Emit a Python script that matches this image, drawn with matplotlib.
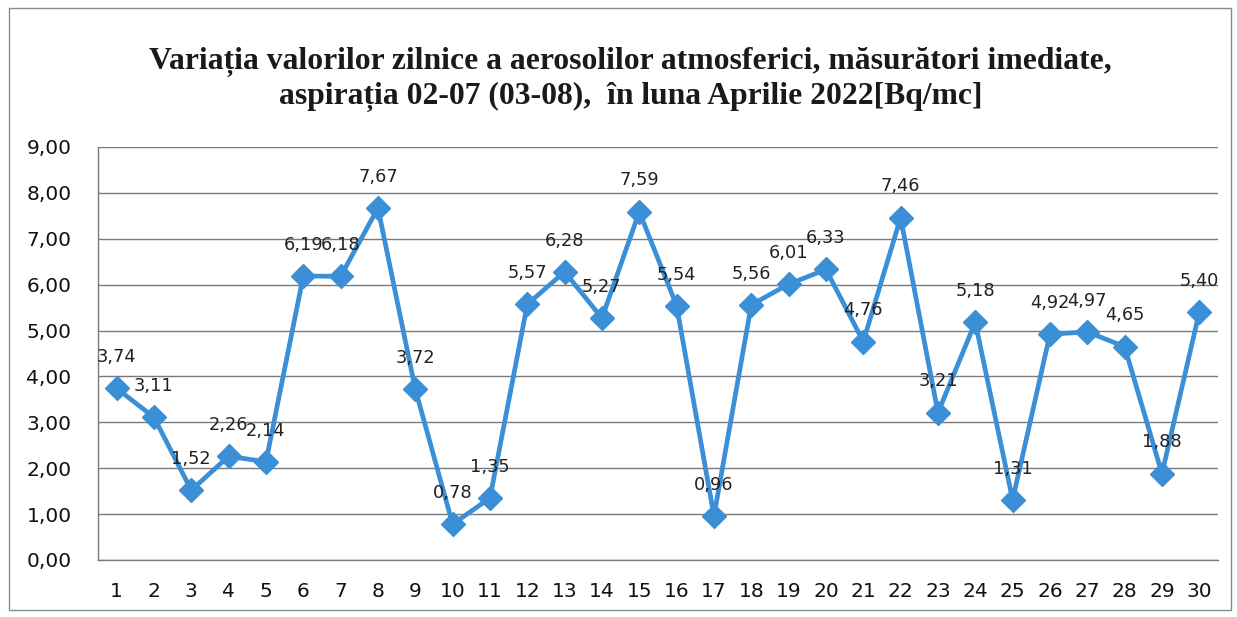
import matplotlib.pyplot as plt
from matplotlib.patches import Rectangle

# daily values, April 2022
days = list(range(1, 31))
values = [3.74, 3.11, 1.52, 2.26, 2.14, 6.19, 6.18, 7.67, 3.72, 0.78,
          1.35, 5.57, 6.28, 5.27, 7.59, 5.54, 0.96, 5.56, 6.01, 6.33,
          4.76, 7.46, 3.21, 5.18, 1.31, 4.92, 4.97, 4.65, 1.88, 5.40]
yticks = [0, 1, 2, 3, 4, 5, 6, 7, 8, 9]

title1 = "Variația valorilor zilnice a aerosolilor atmosferici, măsurători imediate,"
title2 = "aspirația 02-07 (03-08),  în luna Aprilie 2022[Bq/mc]"

blue = "#3b8fd6"
fig = plt.figure(figsize=(12.37, 6.17), dpi=100)
ax = fig.add_axes([0.0792, 0.0924, 0.9054, 0.6694])

ax.plot(days, values, color=blue, linewidth=3.4, marker="D", markersize=12.5,
        markerfacecolor=blue, markeredgecolor=blue, zorder=3)

for d, v in zip(days, values):
    ax.annotate(f"{v:.2f}".replace(".", ","), (d, v), xytext=(0, 16),
                textcoords="offset points", ha="center", va="bottom",
                fontsize=12.8, color="#222222", family="DejaVu Sans")

ax.set_xlim(0.5, 30.5)
ax.set_ylim(0, 9)
ax.set_xticks(days)
ax.set_xticklabels([str(d) for d in days])
ax.set_yticks(yticks)
ax.set_yticklabels([f"{t:.2f}".replace(".", ",") for t in yticks])
ax.tick_params(axis="both", length=0, labelsize=14.5, colors="#111111")
ax.tick_params(axis="y", pad=19)
ax.tick_params(axis="x", pad=16)
ax.grid(axis="y", color="#7a7a7a", linewidth=1.0)
ax.set_axisbelow(True)
for s in ["top", "right"]:
    ax.spines[s].set_visible(False)
for s in ["left", "bottom"]:
    ax.spines[s].set_color("#7a7a7a")
    ax.spines[s].set_linewidth(1.0)

fig.text(0.51, 0.900, title1, ha="center", va="center", fontsize=22.8,
         fontweight="bold", family="Liberation Serif", color="#1a1a1a")
fig.text(0.51, 0.843, title2, ha="center", va="center", fontsize=22.8,
         fontweight="bold", family="Liberation Serif", color="#1a1a1a")

fig.patches.append(Rectangle((0.007, 0.012), 0.988, 0.975, transform=fig.transFigure,
                             fill=False, edgecolor="#8a8a8a", linewidth=1.0))

fig.savefig("out.png", dpi=100)
